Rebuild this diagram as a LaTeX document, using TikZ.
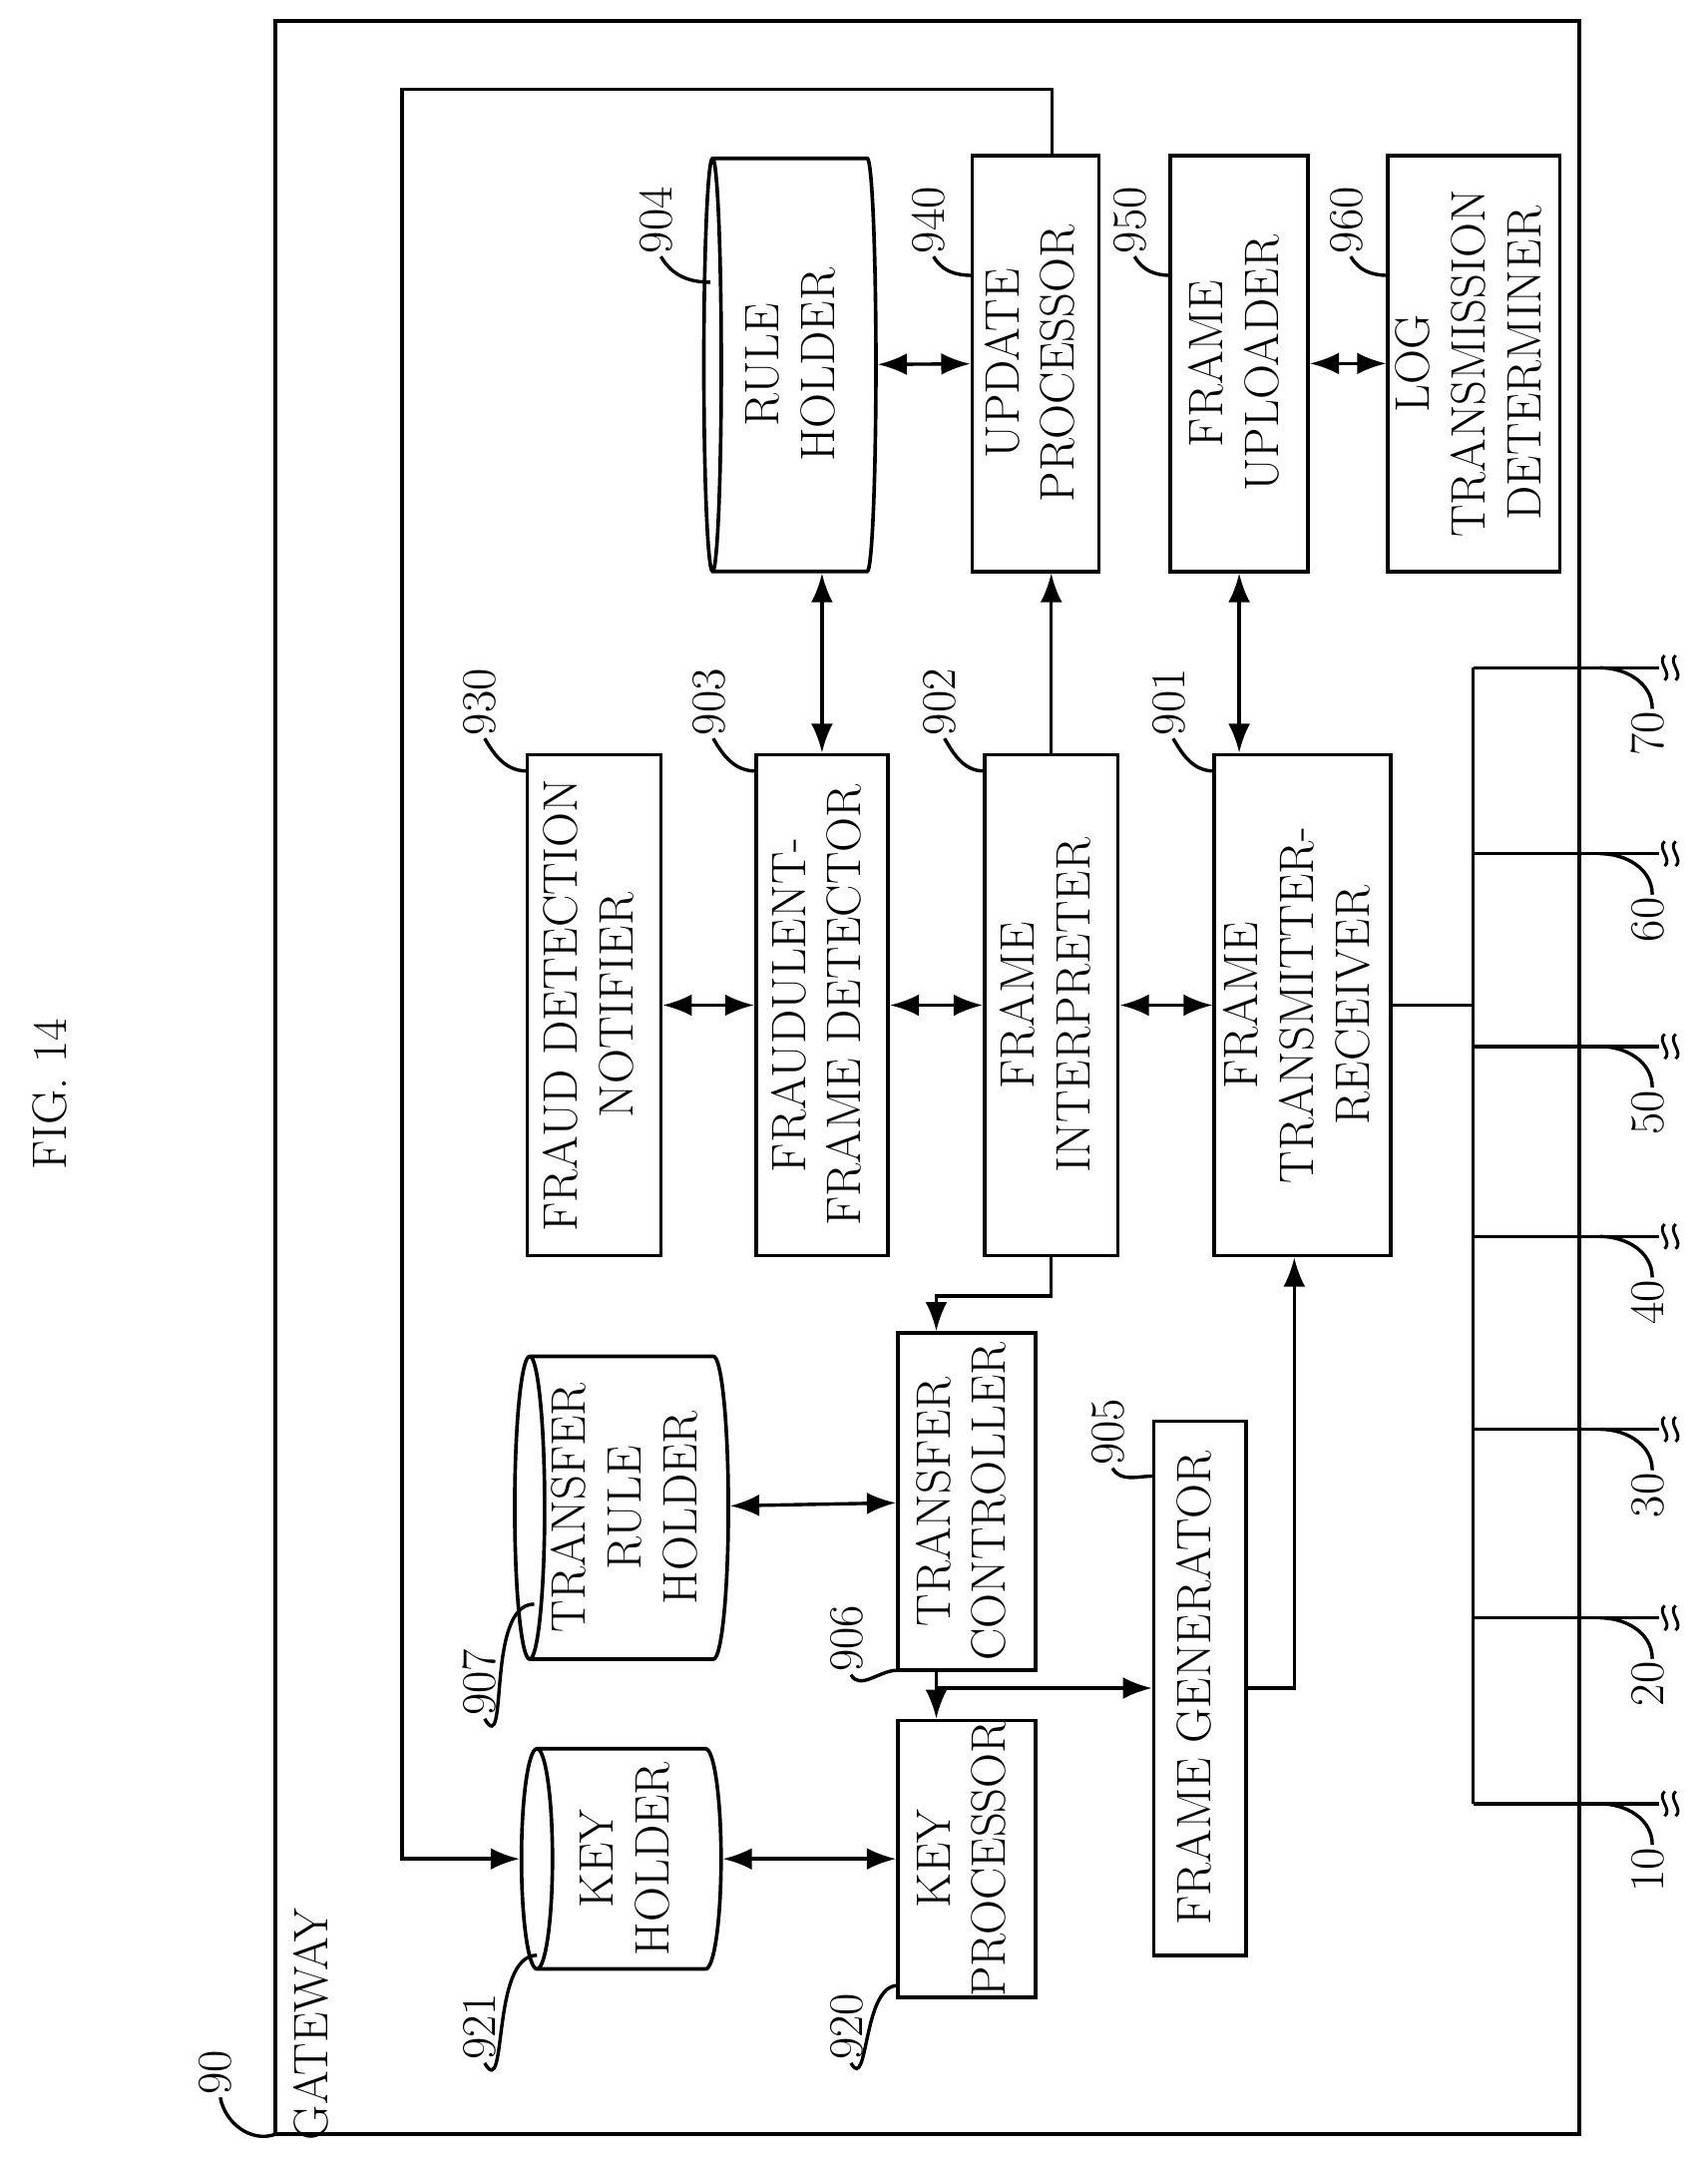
\documentclass[tikz,border=0pt]{standalone}
\usepackage{graphicx}
\usetikzlibrary{arrows.meta,shapes.geometric}
\newcommand{\rt}[1]{\rotatebox{90}{\begin{tabular}{@{}c@{}}#1\end{tabular}}}
\begin{document}
\begin{tikzpicture}[x=0.02cm,y=-0.02cm,
  txt/.style={font=\fontsize{20}{23}\selectfont},
  box/.style={txt, draw, line width=1.5pt, inner sep=0pt},
  db/.style={txt, draw, line width=1.5pt, cylinder, shape border rotate=180, inner sep=0pt},
  link/.style={line width=1.4pt},
  both/.style={link, {Latex[length=12pt,width=9pt]}-{Latex[length=12pt,width=9pt]}},
  one/.style={link, -{Latex[length=12pt,width=9pt]}},
  num/.style={txt, inner sep=1pt}]

  \useasboundingbox (0,0) rectangle (1240,1568);

  % title and frame
  \node[txt] (title) at (40,795) {\rt{FIG. 14}};
  \draw[line width=1.5pt] (200,15) rectangle (1147,1550);
  \node[txt] (gw) at (230,1470) {\rt{GATEWAY}};
  \node[num] (n90) at (160,1505) {\rt{90}};
  \draw[link] (n90.south) to[out=-80,in=200] (200,1550);

  % blocks
  \node[box, minimum width=1.94cm, minimum height=7.28cm] (notif) at (431.5,730) {\rt{FRAUD DETECTION\\NOTIFIER}};
  \node[box, minimum width=1.92cm, minimum height=7.28cm] (det) at (597,730) {\rt{FRAUDULENT-\\FRAME DETECTOR}};
  \node[box, minimum width=1.94cm, minimum height=7.28cm] (interp) at (763.5,730) {\rt{FRAME\\INTERPRETER}};
  \node[box, minimum width=2.56cm, minimum height=7.28cm] (tr) at (946,730) {\rt{FRAME\\TRANSMITTER-\\RECEIVER}};
  \node[db, minimum height=2.5cm, minimum width=6.0cm, aspect=0.09] (rule) at (577.5,265) {\rt{RULE\\HOLDER}};
  \node[box, minimum width=1.84cm, minimum height=6.04cm] (upd) at (752,264) {\rt{UPDATE\\PROCESSOR}};
  \node[box, minimum width=2.0cm, minimum height=6.04cm] (upl) at (900,264) {\rt{FRAME\\UPLOADER}};
  \node[box, minimum width=2.5cm, minimum height=6.04cm] (log) at (1070.5,264) {\rt{LOG\\TRANSMISSION\\DETERMINER}};
  \node[db, minimum height=2.9cm, minimum width=4.4cm, aspect=0.12] (trh) at (457.5,1095) {\rt{TRANSFER\\RULE\\HOLDER}};
  \node[box, minimum width=2.0cm, minimum height=4.9cm] (tc) at (702,1090.5) {\rt{TRANSFER\\CONTROLLER}};
  \node[db, minimum height=2.9cm, minimum width=3.2cm, aspect=0.16] (kh) at (457.5,1350) {\rt{KEY\\HOLDER}};
  \node[box, minimum width=2.0cm, minimum height=3.7cm] (kp) at (702,1350) {\rt{KEY\\PROCESSOR}};
  \node[box, minimum width=1.34cm, minimum height=7.76cm] (fg) at (871.5,1226) {\rt{FRAME GENERATOR}};

  % reference numbers
  \foreach \n/\x/\y/\tx/\ty in {930/352/510/383/560, 903/518/510/549/560, 902/686/510/715/560,
      901/852/510/882/560, 904/480/160/516/205, 940/678/160/706/200, 950/824/160/850/200,
      960/981/160/1008/200, 907/352/1222/388/1165, 906/618/1190/652/1213, 905/808/1040/838/1072,
      921/352/1472/390/1420, 920/618/1472/652/1442}{
    \node[num] (n\n) at (\x,\y) {\rt{\n}};
    \draw[link] (n\n.south) to[out=-60,in=180] (\tx,\ty);
  }

  % connections
  \draw[both] (notif) -- (det);
  \draw[both] (det) -- (interp);
  \draw[both] (interp) -- (tr);
  \draw[both] (rule) -- (upd);
  \draw[both] (upl) -- (log);
  \draw[both] (det.north |- rule.south) -- (det.north);
  \draw[one] (interp.north) -- (interp.north |- upd.south);
  \draw[both] (upl.south) -- (upl.south |- tr.north);
  \draw[both] (trh) -- (tc);
  \draw[both] (kh) -- (kp);
  \coordinate (ret) at (292,65);
  \draw[one] ([xshift=0.24cm]upd.north) |- (ret) |- (kh.west);
  \draw[one] (interp.south) -- ++(0,28) -| ([xshift=-0.44cm]tc.north);
  \draw[one] ([xshift=-0.44cm]tc.south) -- ([xshift=-0.44cm]kp.north);
  \draw[one] ([xshift=-0.44cm]tc.south) |- (fg.west);
  \draw[one] (fg.east) -| ([xshift=-0.12cm]tr.south);

  % bus
  \coordinate (bustop) at (1070,485);
  \coordinate (busbot) at (1070,1310);
  \draw[link] (bustop) -- (busbot);
  \draw[link] (tr.east) -- (tr.east -| bustop);
  \foreach \y/\lab in {485/70, 620/60, 760/50, 898/40, 1038/30, 1175/20, 1310/10}{
    \draw[link] (1070,\y) -- (1205,\y);
    \foreach \dx in {0,8}{
      \draw[line width=1.2pt] (1209+\dx,\y-9) .. controls (1203+\dx,\y-4) and (1215+\dx,\y+4) .. (1209+\dx,\y+9);
    }
    \node[num] (b\lab) at (1200,\y+48) {\rt{\lab}};
    \draw[link] (1162,\y) to[out=0,in=90] (b\lab.north);
  }
\end{tikzpicture}
\end{document}
